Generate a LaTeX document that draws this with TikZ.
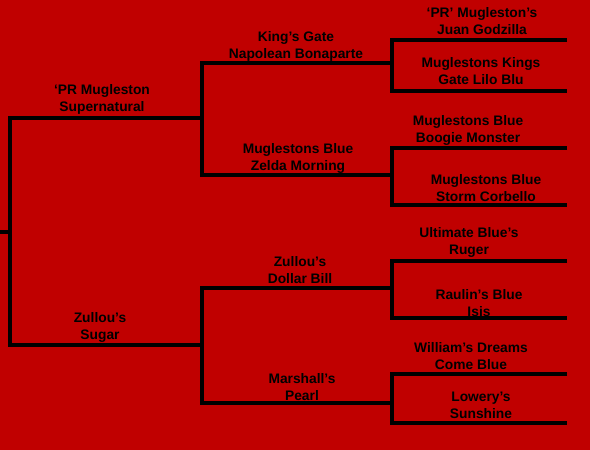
\documentclass[tikz,border=0pt]{standalone}
\usepackage{fontspec}
\setmainfont{Liberation Sans}
\definecolor{pedred}{RGB}{192,0,0}
\begin{document}
\begin{tikzpicture}[x=1pt,y=-1pt]
    \tikzset{
        pedline/.style={line width=3.5pt,black},
        dogname/.style={align=center,inner sep=0pt,font=\fontsize{13.8}{17}\selectfont\bfseries}
    }
    \fill[pedred] (0,0) rectangle (590,450);
    \useasboundingbox (0,0) rectangle (590,450);
    % Root and parents
    \coordinate (R) at (0,232);
    \coordinate (RV) at (10,232);
    \coordinate (S) at (10,118);
    \coordinate (D) at (10,345);
    \coordinate (S1) at (202,118);
    \coordinate (D1) at (202,345);
    % Grandparents
    \coordinate (SS) at (202,63);
    \coordinate (SS1) at (392,63);
    \coordinate (SD) at (202,175);
    \coordinate (SD1) at (392,175);
    \coordinate (DS) at (202,288);
    \coordinate (DS1) at (392,288);
    \coordinate (DD) at (202,403);
    \coordinate (DD1) at (392,403);
    % Great grandparents
    \coordinate (SSS) at (392,40);
    \coordinate (SSS1) at (567,40);
    \coordinate (SSD) at (392,91);
    \coordinate (SSD1) at (567,91);
    \coordinate (SDS) at (392,148);
    \coordinate (SDS1) at (567,148);
    \coordinate (SDD) at (392,205);
    \coordinate (SDD1) at (567,205);
    \coordinate (DSS) at (392,261);
    \coordinate (DSS1) at (567,261);
    \coordinate (DSD) at (392,318);
    \coordinate (DSD1) at (567,318);
    \coordinate (DDS) at (392,374);
    \coordinate (DDS1) at (567,374);
    \coordinate (DDD) at (392,423);
    \coordinate (DDD1) at (567,423);

    \draw[pedline] (R) -- (RV);
    \draw[pedline] (S1) -- (S) -- (D) -- (D1);
    \draw[pedline] (SS1) -- (SS) -- (SD) -- (SD1);
    \draw[pedline] (DS1) -- (DS) -- (DD) -- (DD1);
    \draw[pedline] (SSS1) -- (SSS) -- (SSD) -- (SSD1);
    \draw[pedline] (SDS1) -- (SDS) -- (SDD) -- (SDD1);
    \draw[pedline] (DSS1) -- (DSS) -- (DSD) -- (DSD1);
    \draw[pedline] (DDS1) -- (DDS) -- (DDD) -- (DDD1);

    % Names
    \node[dogname] (sire) at (102,99.5) {‘PR Mugleston\\Supernatural};
    \node[dogname] (dam) at (100,327.5) {Zullou’s\\Sugar};
    \node[dogname] (ss) at (296,46.5) {King’s Gate\\Napolean Bonaparte};
    \node[dogname] (sd) at (298,158.5) {Muglestons Blue\\Zelda Morning};
    \node[dogname] (ds) at (300,270.5) {Zullou’s\\Dollar Bill};
    \node[dogname] (dd) at (302,387.5) {Marshall’s\\Pearl};
    \node[dogname] (sss) at (482,21.5) {‘PR’ Mugleston’s\\Juan Godzilla};
    \node[dogname] (ssd) at (481,71.5) {Muglestons Kings\\Gate Lilo Blu};
    \node[dogname] (sds) at (468,130.5) {Muglestons Blue\\Boogie Monster};
    \node[dogname] (sdd) at (486,188.5) {Muglestons Blue\\Storm Corbello};
    \node[dogname] (dss) at (469,242.5) {Ultimate Blue’s\\Ruger};
    \node[dogname] (dsd) at (479,303.5) {Raulin’s Blue\\Isis};
    \node[dogname] (dds) at (471,356.5) {William’s Dreams\\Come Blue};
    \node[dogname] (ddd) at (481,405.5) {Lowery’s\\Sunshine};
\end{tikzpicture}
\end{document}
